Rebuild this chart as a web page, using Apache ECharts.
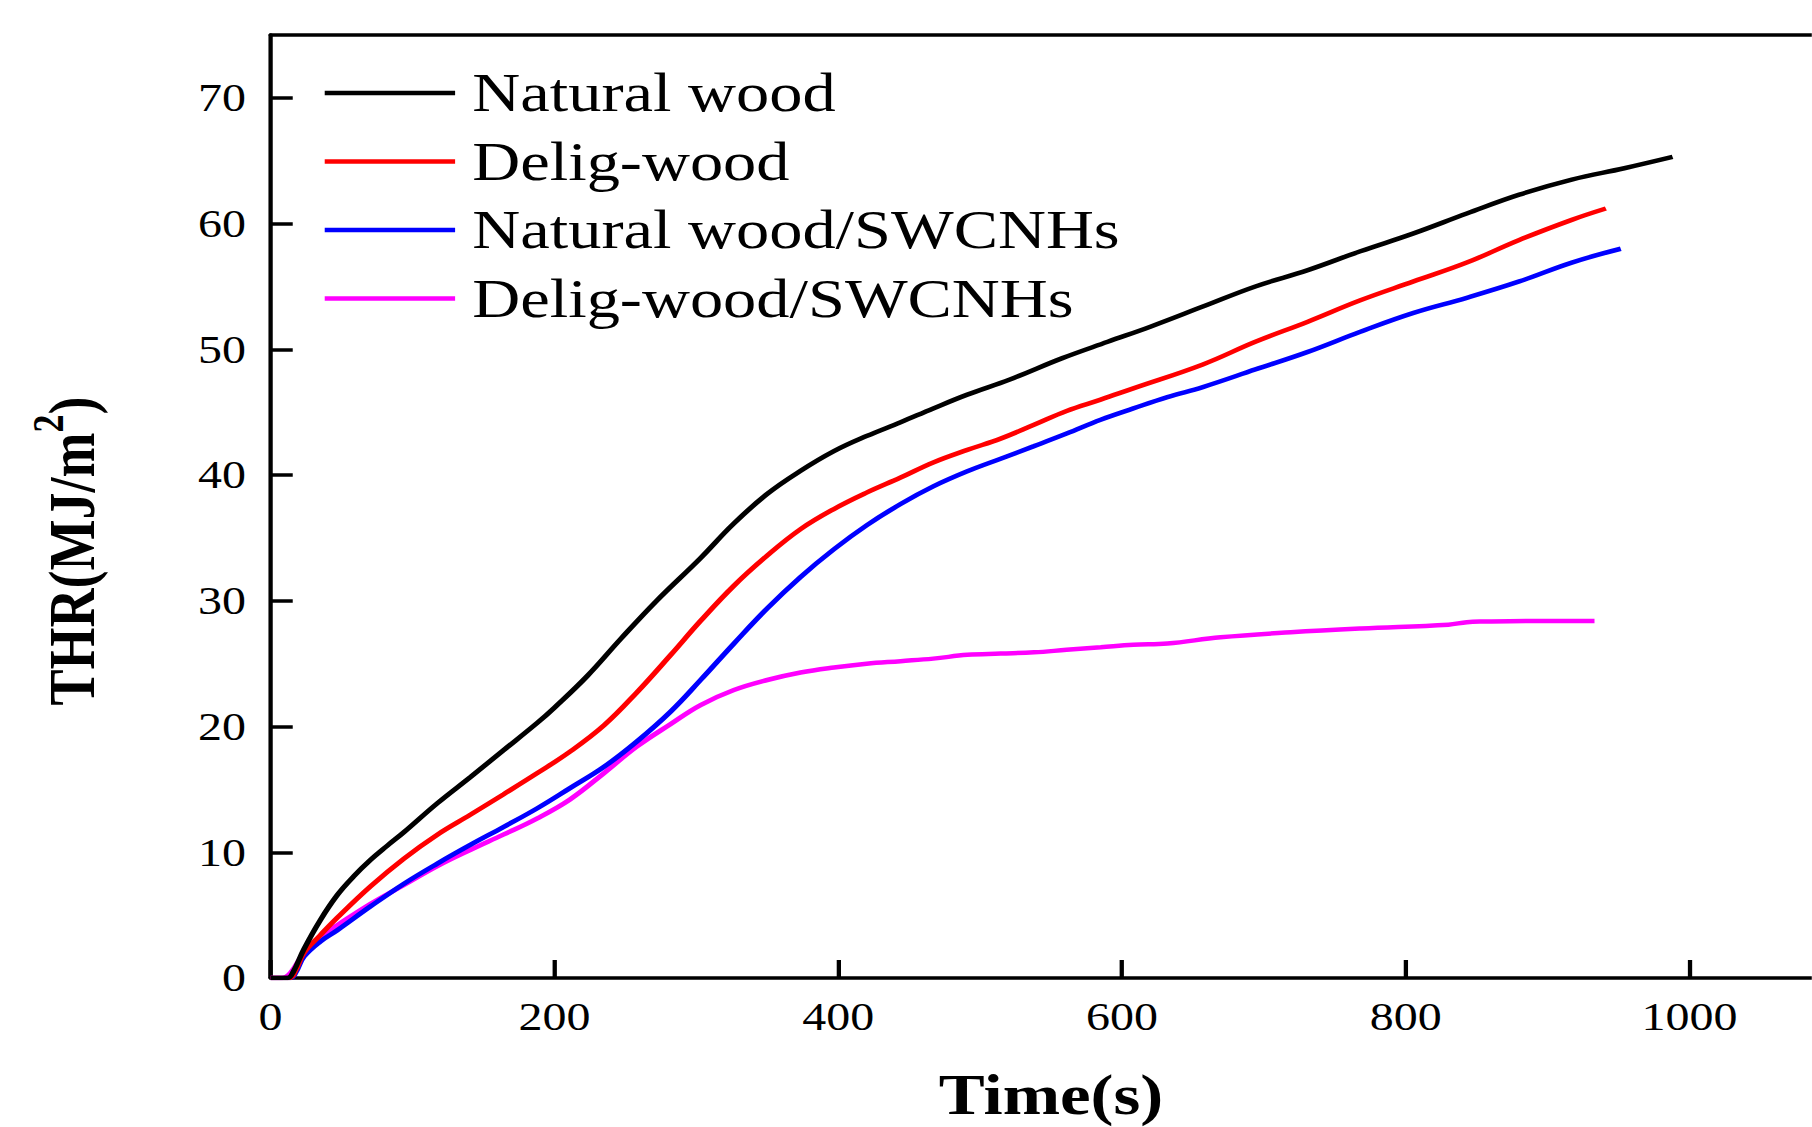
<!DOCTYPE html>
<html>
<head>
<meta charset="utf-8">
<script src="https://cdn.jsdelivr.net/npm/echarts@6/dist/echarts.min.js"></script>
<style>
html,body{margin:0;padding:0;background:#fff;overflow:hidden;width:1812px;height:1127px;}
#chart{width:1473px;height:1127px;transform:scaleX(1.23);transform-origin:0 0;}
</style>
</head>
<body>
<div id="chart"></div>
<script>
// ---- data (time in s, THR in MJ/m2) ----
const seriesNames = ['Natural wood', 'Delig-wood', 'Natural wood/SWCNHs', 'Delig-wood/SWCNHs'];
const seriesColors = ['#000000', '#ff0000', '#0000ff', '#ff00ff'];

const timeNatural = [0, 12, 16, 23.5, 35, 47, 58.7, 70.5, 82, 94, 117.5, 141, 164, 188, 200, 223, 247, 272, 303, 326, 350, 373, 397, 420, 444, 467, 491, 521, 558, 590, 620, 657, 694, 731, 768, 805, 843, 880, 917, 954, 988];
const thrNatural  = [0, 0, 0.5, 2.3, 4.6, 6.6, 8.1, 9.4, 10.5, 11.6, 13.9, 16.0, 18.1, 20.3, 21.5, 24.0, 27.0, 30.0, 33.4, 36.1, 38.5, 40.3, 41.9, 43.1, 44.2, 45.3, 46.4, 47.6, 49.3, 50.6, 51.8, 53.4, 55.0, 56.3, 57.8, 59.2, 60.8, 62.3, 63.5, 64.4, 65.3];

const timeDelig = [0, 13, 18, 23.5, 35, 47, 70.5, 94, 117.5, 141, 164, 188, 211, 235, 258, 282, 303, 326.5, 350, 373.5, 397, 420, 444, 467, 491, 514.5, 538, 561, 585, 608, 657, 694, 731, 768, 805.5, 843, 880, 917, 941];
const thrDelig  = [0, 0, 0.7, 2.0, 3.4, 4.8, 7.3, 9.5, 11.4, 13.0, 14.6, 16.3, 18.0, 20.1, 22.7, 25.7, 28.4, 31.2, 33.6, 35.7, 37.3, 38.6, 39.8, 41.0, 42.0, 42.9, 44.0, 45.1, 46.0, 46.9, 48.8, 50.6, 52.2, 53.9, 55.4, 56.9, 58.7, 60.3, 61.2];

const timeNaturalCNH = [0, 14, 18, 23.5, 35, 47, 70.5, 94, 117.5, 141, 164, 188, 211, 235, 258, 282, 303, 326.5, 350, 373.5, 397, 420, 444, 467, 491, 514.5, 538, 561, 585, 608, 632, 657, 694, 731, 768, 805.5, 843, 880, 917, 951.5];
const thrNaturalCNH  = [0, 0, 0.5, 1.7, 2.9, 3.8, 5.7, 7.5, 9.1, 10.6, 12.0, 13.5, 15.1, 16.8, 18.8, 21.2, 23.7, 26.6, 29.4, 31.9, 34.1, 36.0, 37.7, 39.1, 40.3, 41.3, 42.3, 43.3, 44.4, 45.3, 46.2, 47.0, 48.4, 49.8, 51.4, 52.9, 54.1, 55.4, 56.9, 58.0];

const timeDeligCNH = [0, 8, 14, 23.5, 35, 47, 70.5, 94, 117.5, 141, 164, 188, 211, 235, 258, 282, 303, 326.5, 350, 373.5, 397, 420, 444, 467, 491, 514.5, 538, 561, 585, 608, 632, 669.5, 719, 768.5, 830, 843, 855, 892, 933];
const thrDeligCNH  = [0, 0, 0.4, 2.0, 3.3, 4.2, 5.9, 7.4, 8.9, 10.2, 11.4, 12.7, 14.2, 16.3, 18.4, 20.2, 21.7, 22.9, 23.7, 24.3, 24.7, 25.0, 25.2, 25.4, 25.7, 25.8, 25.9, 26.1, 26.3, 26.5, 26.6, 27.1, 27.5, 27.8, 28.1, 28.3, 28.35, 28.4, 28.4];

const xTicks = [0, 200, 400, 600, 800, 1000];
const yTicks = [0, 10, 20, 30, 40, 50, 60, 70];

const xTitle = 'Time(s)';

// ---- build ----
const times = [timeNatural, timeDelig, timeNaturalCNH, timeDeligCNH];
const values = [thrNatural, thrDelig, thrNaturalCNH, thrDeligCNH];
const zip = (a, b) => a.map((t, i) => [t, b[i]]);

const serif = '"Liberation Serif", "Times New Roman", serif';
const chart = echarts.init(document.getElementById('chart'), null, {renderer: 'svg', width: 1473, height: 1127});

const axisLineStyle = {color: '#000', width: 3.5};
const plainNum = v => String(v);

chart.setOption({
  animation: false,
  backgroundColor: '#ffffff',
  grid: {left: 220, top: 35, width: 1269, height: 943, containLabel: false, outerBoundsMode: 'none'},
  legend: {
    orient: 'vertical',
    left: 264,
    top: 66,
    padding: 0,
    icon: 'rect',
    itemWidth: 106,
    itemHeight: 4.5,
    itemGap: 14.5,
    selectedMode: false,
    data: seriesNames,
    textStyle: {fontFamily: serif, fontSize: 54, lineHeight: 54, color: '#000', padding: [0, 0, 0, 9]}
  },
  xAxis: [{
    type: 'value', min: 0, max: 1100, position: 'bottom',
    name: xTitle, nameLocation: 'middle', nameGap: 89,
    nameTextStyle: {fontFamily: serif, fontSize: 56, fontWeight: 'bold', color: '#000'},
    axisLine: {onZero: false, lineStyle: axisLineStyle},
    axisTick: {inside: true, length: 18, lineStyle: {color: '#000', width: 3.5}, customValues: xTicks},
    axisLabel: {fontFamily: serif, fontSize: 39, color: '#000', margin: 19, customValues: xTicks, formatter: plainNum},
    splitLine: {show: false}
  }, {
    type: 'value', min: 0, max: 1100, position: 'top',
    axisLine: {onZero: false, lineStyle: axisLineStyle},
    axisTick: {show: false}, axisLabel: {show: false}, splitLine: {show: false}
  }],
  yAxis: {
    type: 'value', min: 0, max: 75,
    axisLine: {onZero: false, lineStyle: axisLineStyle},
    axisTick: {inside: true, length: 18, lineStyle: {color: '#000', width: 3.5}, customValues: yTicks},
    axisLabel: {fontFamily: serif, fontSize: 39, color: '#000', margin: 20, customValues: yTicks, formatter: plainNum},
    splitLine: {show: false}
  },
  graphic: [{
    type: 'text',
    x: 58.5, y: 551,
    rotation: Math.PI / 2,
    style: {
      text: '{a|THR(MJ/m}{b|2}{a|)}',
      align: 'center', verticalAlign: 'middle',
      fill: '#000',
      rich: {
        a: {fontFamily: serif, fontSize: 54, fontWeight: 'bold', fill: '#000', lineHeight: 54},
        b: {fontFamily: serif, fontSize: 36, fontWeight: 'bold', fill: '#000', padding: [0, 0, 38, 0]}
      }
    }
  }],
  series: seriesNames.map((name, i) => ({
    name: name,
    type: 'line',
    data: zip(times[i], values[i]),
    showSymbol: false,
    symbol: 'none',
    smooth: 0.4,
    lineStyle: {color: seriesColors[i], width: 4.5},
    itemStyle: {color: seriesColors[i]},
    z: 10 - i
  }))
});
</script>
</body>
</html>
